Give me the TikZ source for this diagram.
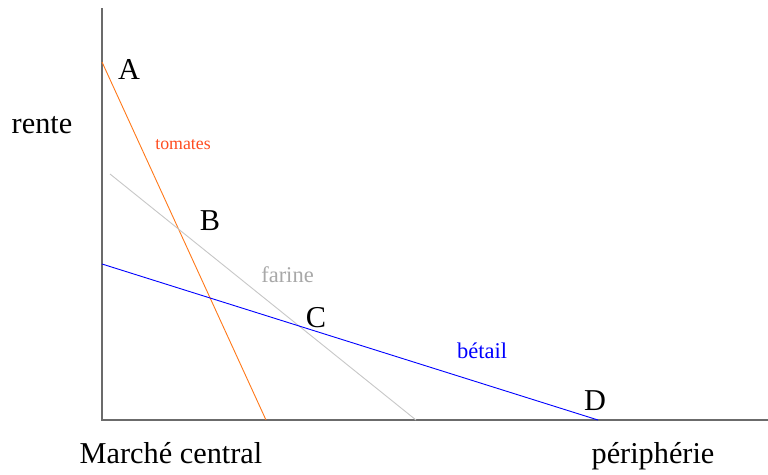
\documentclass[tikz,border=0pt]{standalone}
\usepackage{fontspec}
\setmainfont{Liberation Serif}
\definecolor{axisgray}{rgb}{0.42,0.42,0.42}
\definecolor{tomline}{rgb}{1,0.47,0.1}
\definecolor{tomtext}{rgb}{1,0.3,0.12}
\definecolor{farline}{rgb}{0.78,0.78,0.78}
\definecolor{fartext}{rgb}{0.66,0.66,0.66}
\definecolor{betblue}{rgb}{0,0,1}
\begin{document}
\begin{tikzpicture}[x=1pt,y=-1pt,
  axisline/.style={draw=axisgray,line width=1.4pt},
  curve/.style={line width=0.9pt},
  big/.style={anchor=base,inner sep=0pt,font=\fontsize{30.3}{32}\selectfont},
  mid/.style={anchor=base,inner sep=0pt,font=\fontsize{22.5}{24}\selectfont},
  small/.style={anchor=base,inner sep=0pt,font=\fontsize{17.8}{19}\selectfont}]
\useasboundingbox (0,0) rectangle (768,474);
% coordinates
\coordinate (ytop) at (102,8);
\coordinate (o) at (102,420);
\coordinate (xend) at (768,420);
\coordinate (t1) at (102,62);
\coordinate (t2) at (266,420);
\coordinate (f1) at (110,174);
\coordinate (f2) at (416,420);
\coordinate (b1) at (102,264);
\coordinate (b2) at (598,420);
% axes
\draw[axisline] (ytop) -- (o) -- (xend);
% rent lines
\draw[curve,draw=tomline] (t1) -- (t2);
\draw[curve,draw=farline] (f1) -- (f2);
\draw[curve,draw=betblue] (b1) -- (b2);
% labels
\node[big] (lA) at (129,79) {A};
\node[big] (lB) at (210,230) {B};
\node[big] (lC) at (316,327) {C};
\node[big] (lD) at (595,410) {D};
\node[big] (rente) at (42,133) {rente};
\node[big] (marche) at (171,463) {Marché central};
\node[big] (peri) at (653,463) {périphérie};
\node[small,text=tomtext] (tom) at (183,149) {tomates};
\node[mid,text=fartext] (far) at (287.5,282) {farine};
\node[mid,text=betblue] (bet) at (482,358) {bétail};
\end{tikzpicture}
\end{document}
